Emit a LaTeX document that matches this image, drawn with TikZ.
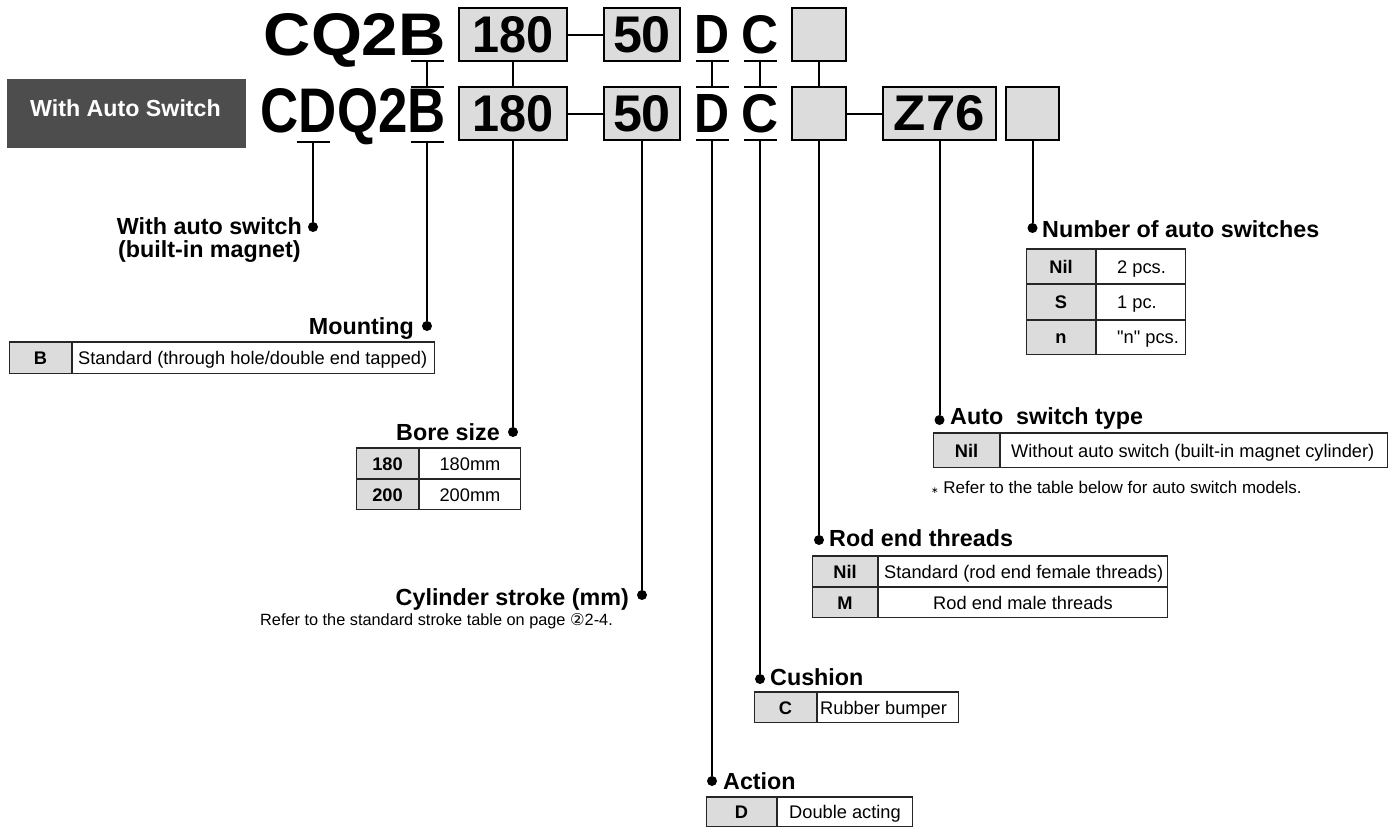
\documentclass[tikz,border=0pt]{standalone}
\usepackage{fontspec}
\usepackage{graphicx}
\setmainfont{Liberation Sans}
\newfontfamily\circfont{DejaVu Sans}
\usetikzlibrary{positioning}

\definecolor{cellgray}{HTML}{DCDCDC}
\definecolor{tagdark}{HTML}{4D4D4D}

\tikzset{
  code/.style={inner sep=0pt, font=\bfseries},
  cell/.style={draw, line width=2pt, fill=cellgray, inner sep=0pt, minimum height=53pt, font=\bfseries},
  link/.style={line width=2pt},
  dot/.style={circle, fill, inner sep=0pt, minimum size=10pt},
  head/.style={inner sep=0pt, font=\fontsize{23.3}{23.5}\selectfont\bfseries},
  note/.style={inner sep=0pt, font=\fontsize{16.3}{18}\selectfont},
  key/.style={draw=black!85, line width=1pt, fill=cellgray, inner sep=0pt, anchor=north west, text height=13pt, text depth=0pt, font=\fontsize{18.25}{20}\selectfont\bfseries},
  val/.style={draw=black!85, line width=1pt, inner sep=0pt, text height=13pt, text depth=0pt, font=\fontsize{18.25}{20}\selectfont},
  txt/.style={inner sep=0pt, anchor=west, text height=13pt, text depth=0pt, font=\fontsize{18.25}{20}\selectfont},
  topline/.style={line width=2pt, black!85},
}

\begin{document}
\begin{tikzpicture}[x=1pt, y=-1pt]
\useasboundingbox (0,0) rectangle (1390,827);

% tag on the left
\node[fill=tagdark, minimum width=239pt, minimum height=69pt, inner sep=0pt] (tag) at (126.5,113.5) {};
\node[anchor=base, text=white, inner sep=0pt, font=\fontsize{23.2}{24}\selectfont\bfseries] (tagtext) at (125.5,116.7) {With Auto Switch};

% model codes, top row
\node[code, anchor=base west] (cq) at (263.5,55) {\resizebox{182pt}{42pt}{CQ2B}};
\node[cell, minimum width=108pt] (n1) at (513,34.5) {\resizebox{81pt}{36pt}{180}};
\node[cell, minimum width=76pt] (s1) at (642,34.5) {\resizebox{58pt}{36pt}{50}};
\node[code, anchor=base west] (d1) at (694,53) {\resizebox{35pt}{38pt}{D}};
\node[code, anchor=base west] (c1) at (741,53) {\resizebox{37pt}{38pt}{C}};
\node[cell, minimum width=54pt] (e1) at (819,34.5) {};

% model codes, bottom row
\node[code, anchor=base west] (cdq) at (260.5,132) {\resizebox{185pt}{44pt}{CDQ2B}};
\node[cell, minimum width=108pt] (n2) at (513,113.5) {\resizebox{81pt}{36pt}{180}};
\node[cell, minimum width=76pt] (s2) at (642,113.5) {\resizebox{58pt}{36pt}{50}};
\node[code, anchor=base west] (d2) at (694,132) {\resizebox{35pt}{38pt}{D}};
\node[code, anchor=base west] (c2) at (741,132) {\resizebox{37pt}{38pt}{C}};
\node[cell, minimum width=54pt] (e2) at (819,113.5) {};
\node[cell, minimum width=113pt] (z2) at (939.5,113.5) {\resizebox{91pt}{35pt}{Z76}};
\node[cell, minimum width=53pt] (o2) at (1032.5,113.5) {};

% bars under and over the letters
\coordinate (bB1) at (427,61);
\coordinate (bB2) at (427,87);
\coordinate (bB3) at (427,142);
\coordinate (bD1) at (712,61);
\coordinate (bD2) at (712,87);
\coordinate (bD3) at (712,140);
\coordinate (bC1) at (760,61);
\coordinate (bC2) at (760,87);
\coordinate (bC3) at (760,140);
\coordinate (bM) at (313,142);
\foreach \c in {bB1,bB2,bB3,bD1,bD2,bD3,bC1,bC2,bC3,bM}
  \draw[link] ([xshift=-16.5pt]\c) -- ([xshift=16.5pt]\c);

\draw[link] (bB1) -- (bB2);
\draw[link] (bD1) -- (bD2);
\draw[link] (bC1) -- (bC2);
\draw[link] (n1) -- (n2);
\draw[link] (e1) -- (e2);
\draw[link] (n1) -- (s1);
\draw[link] (n2) -- (s2);
\draw[link] (e2) -- (z2);

% dots
\node[dot] (wdot) at (313,227) {};
\node[dot] (mdot) at (427,326) {};
\node[dot] (bdot) at (513,432) {};
\node[dot] (cdot) at (642,595) {};
\node[dot] (adot) at (712,781) {};
\node[dot] (udot) at (760,679) {};
\node[dot] (rdot) at (819,540) {};
\node[dot] (tdot) at (939.5,420) {};
\node[dot] (ndot) at (1032.5,228) {};

\draw[link] (bM) -- (wdot);
\draw[link] (bB3) -- (mdot);
\draw[link] (n2) -- (bdot);
\draw[link] (s2) -- (cdot);
\draw[link] (bD3) -- (adot);
\draw[link] (bC3) -- (udot);
\draw[link] (e2) -- (rdot);
\draw[link] (z2) -- (tdot);
\draw[link] (o2) -- (ndot);

% labels
\node[head, anchor=north east, align=center] (wlab) at (302,217) {With auto switch\\(built-in magnet)};
\node[head, anchor=base east] (mlab) at (414,334) {Mounting};
\node[head, anchor=base east] (blab) at (500,440) {Bore size};
\node[head, anchor=base east] (clab) at (629,605) {Cylinder stroke (mm)};
\node[note, anchor=base east] (cnote) at (613,625) {Refer to the standard stroke table on page {\circfont ②}2-4.};
\node[head, anchor=base west] (alab) at (723,789) {Action};
\node[head, anchor=base west] (ulab) at (770,685) {Cushion};
\node[head, anchor=base west] (rlab) at (829,546) {Rod end threads};
\node[head, anchor=base west] (tlab) at (950,424) {Auto\ \ switch type};
\node[note, anchor=base west, font=\fontsize{17}{18}\selectfont] (tnote) at (931,493) {{\circfont\small ∗} Refer to the table below for auto switch models.};
\node[head, anchor=base west] (nlab) at (1042,237) {Number of auto switches};

% mounting
\node[key, minimum width=62pt, minimum height=31pt] (mk1) at (9,342) {B};
\node[val, right=0pt of mk1, minimum width=362pt, minimum height=31pt] (mv1) {};
\node[txt, xshift=6pt] (mt1) at (mv1.west) {Standard (through hole/double end tapped)};
\draw[topline] (mk1.north west) -- (mv1.north east);

% bore size
\node[key, minimum width=62pt, minimum height=30pt] (bk1) at (356,448) {180};
\node[val, right=0pt of bk1, minimum width=101pt, minimum height=30pt] (bv1) {180mm};
\node[key, below=0pt of bk1, minimum width=62pt, minimum height=30pt] (bk2) {200};
\node[val, right=0pt of bk2, minimum width=101pt, minimum height=30pt] (bv2) {200mm};
\draw[topline] (bk1.north west) -- (bv1.north east);

% number of auto switches
\node[key, minimum width=69pt, minimum height=34.3pt] (nk1) at (1026,249) {Nil};
\node[val, right=0pt of nk1, minimum width=89pt, minimum height=34.3pt] (nv1) {};
\node[txt, xshift=21pt] (nt1) at (nv1.west) {2 pcs.};
\node[key, below=0pt of nk1, minimum width=69pt, minimum height=34.3pt] (nk2) {S};
\node[val, right=0pt of nk2, minimum width=89pt, minimum height=34.3pt] (nv2) {};
\node[txt, xshift=21pt] (nt2) at (nv2.west) {1 pc.};
\node[key, below=0pt of nk2, minimum width=69pt, minimum height=34.3pt] (nk3) {n};
\node[val, right=0pt of nk3, minimum width=89pt, minimum height=34.3pt] (nv3) {};
\node[txt, xshift=21pt] (nt3) at (nv3.west) {\textquotedbl n\textquotedbl{} pcs.};
\draw[topline] (nk1.north west) -- (nv1.north east);

% auto switch type
\node[key, minimum width=66pt, minimum height=34pt] (tk1) at (933,433) {Nil};
\node[val, right=0pt of tk1, minimum width=387pt, minimum height=34pt] (tv1) {};
\node[txt, xshift=11pt] (tt1) at (tv1.west) {Without auto switch (built-in magnet cylinder)};
\draw[topline] (tk1.north west) -- (tv1.north east);

% rod end threads
\node[key, minimum width=65pt, minimum height=30pt] (rk1) at (812,556) {Nil};
\node[val, right=0pt of rk1, minimum width=289pt, minimum height=30pt] (rv1) {};
\node[txt, xshift=6pt] (rt1) at (rv1.west) {Standard (rod end female threads)};
\node[key, below=0pt of rk1, minimum width=65pt, minimum height=30pt] (rk2) {M};
\node[val, right=0pt of rk2, minimum width=289pt, minimum height=30pt] (rv2) {Rod end male threads};
\draw[topline] (rk1.north west) -- (rv1.north east);

% cushion
\node[key, minimum width=62pt, minimum height=30pt] (uk1) at (754,692) {C};
\node[val, right=0pt of uk1, minimum width=141pt, minimum height=30pt] (uv1) {};
\node[txt, xshift=3pt] (ut1) at (uv1.west) {Rubber bumper};
\draw[topline] (uk1.north west) -- (uv1.north east);

% action
\node[key, minimum width=70pt, minimum height=29pt] (ak1) at (706,797) {D};
\node[val, right=0pt of ak1, minimum width=135pt, minimum height=29pt] (av1) {Double acting};
\draw[topline] (ak1.north west) -- (av1.north east);
\end{tikzpicture}
\end{document}
